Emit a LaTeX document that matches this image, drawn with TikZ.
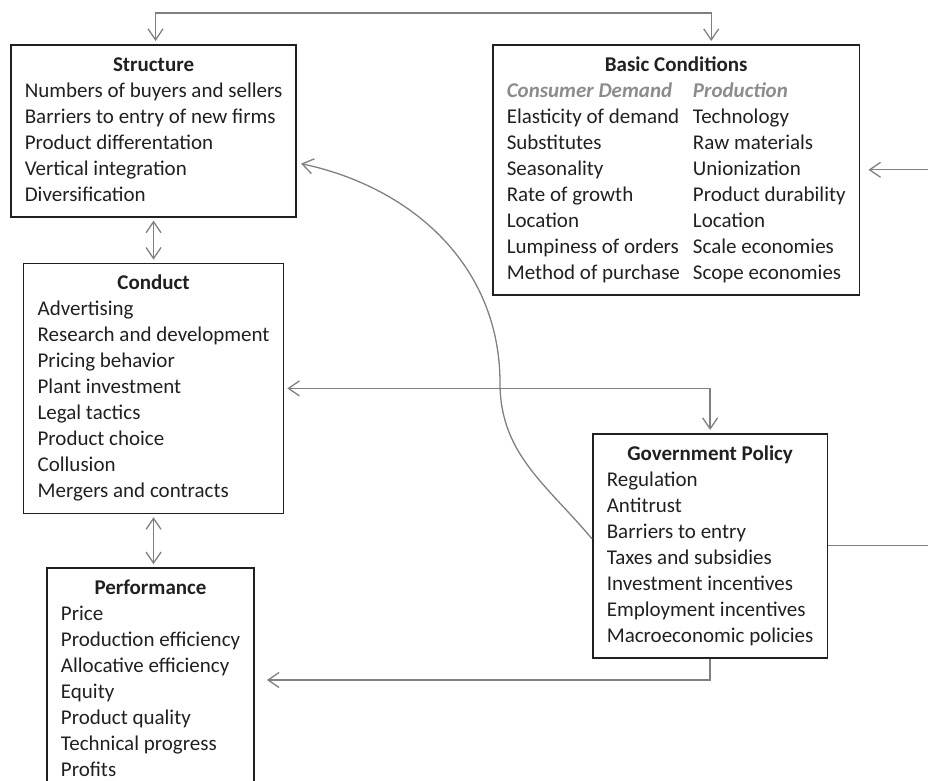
\documentclass[tikz,border=0pt]{standalone}
\usepackage{fontspec}
\setmainfont{Carlito}
\usepackage{tikz}
\usetikzlibrary{positioning, arrows.meta}
\usepackage{xcolor}
\definecolor{ink}{HTML}{231F20}
\definecolor{wire}{HTML}{808080}
\definecolor{subhead}{HTML}{8C8C8C}

\begin{document}
\begin{tikzpicture}[x=1pt, y=1pt, >={Straight Barb[length=11pt,width=15pt]},
                box/.style={draw=ink, line width=1.6pt, text=ink, inner xsep=14pt, inner ysep=8pt,
                            font=\fontsize{21}{26}\selectfont},
                link/.style={draw=wire, line width=1.3pt, shorten >=3pt},
                node distance=45pt]

                \useasboundingbox (0,0) rectangle (928,-780);

                \node[box, anchor=north west] (str) at (10,-44) {\begin{tabular}{@{}l@{}}
                    \multicolumn{1}{@{}c@{}}{\bfseries Structure}\\
                    Numbers of buyers and sellers\\
                    Barriers to entry of new firms\\
                    Product differentation\\
                    Vertical integration\\
                    Diversification
                \end{tabular}};
                \node[box] (con) [below=45pt of str] {\begin{tabular}{@{}l@{}}
                    \multicolumn{1}{@{}c@{}}{\bfseries Conduct}\\
                    Advertising\\
                    Research and development\\
                    Pricing behavior\\
                    Plant investment\\
                    Legal tactics\\
                    Product choice\\
                    Collusion\\
                    Mergers and contracts
                \end{tabular}};
                \node[box] (per) [below=53pt of con, xshift=-3pt] {\begin{tabular}{@{}l@{}}
                    \multicolumn{1}{@{}c@{}}{\bfseries Performance}\\
                    Price\\
                    Production efficiency\\
                    Allocative efficiency\\
                    Equity\\
                    Product quality\\
                    Technical progress\\
                    Profits
                \end{tabular}};
                \node[box, anchor=north west] (bas) at (492,-44) {\begin{tabular}{@{}l@{\hspace{13pt}}l@{}}
                    \multicolumn{2}{@{}c@{}}{\bfseries Basic Conditions}\\
                    {\color{subhead}\bfseries\itshape Consumer Demand} & {\color{subhead}\bfseries\itshape Production}\\
                    Elasticity of demand & Technology\\
                    Substitutes & Raw materials\\
                    Seasonality & Unionization\\
                    Rate of growth & Product durability\\
                    Location & Location\\
                    Lumpiness of orders & Scale economies\\
                    Method of purchase & Scope economies
                \end{tabular}};
                \node[box, anchor=north west] (gov) at (592,-433) {\begin{tabular}{@{}l@{}}
                    \multicolumn{1}{@{}c@{}}{\bfseries Government Policy}\\
                    Regulation\\
                    Antitrust\\
                    Barriers to entry\\
                    Taxes and subsidies\\
                    Investment incentives\\
                    Employment incentives\\
                    Macroeconomic policies
                \end{tabular}};

                \coordinate (bend) at (500,-383);

                \draw[link, <->, shorten <=3pt] ([xshift=2pt]str.north) -- ++(0,31) -| ([xshift=35pt]bas.north);
                \draw[link, <->, shorten <=3pt] (str.south) -- (str.south |- con.north);
                \draw[link, <->, shorten <=3pt] (con.south) -- (con.south |- per.north);
                \draw[link, <->, shorten <=3pt] (con.east) -| (gov.north);
                \draw[link, ->, shorten >=12pt] (gov.south) |- (per.east);
                \draw[link, ->, shorten >=8pt] (gov.east) -- ++(105,0) |- (bas.east);
                \draw[link, ->, shorten >=4pt] ([yshift=7pt]gov.west) to[out=130, in=-90] (bend)
                    to[out=90, in=-12] ([yshift=-32pt]str.east);

            \end{tikzpicture}
\end{document}
